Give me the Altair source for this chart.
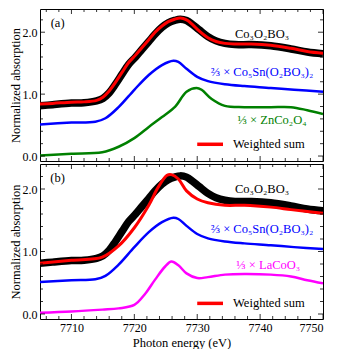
import altair as alt
import pandas as pd

# ---------------- data ----------------
black_x = [7704.9, 7707, 7710, 7712, 7714, 7715, 7716, 7717, 7718.1, 7719.1, 7720.2, 7721.2,
           7722.3, 7723.3, 7724.4, 7725.4, 7726.4, 7727.3, 7728.3, 7729.3, 7730.3, 7731.7,
           7733, 7734.4, 7736, 7738.6, 7741.7, 7744.9, 7747.5, 7750]
black_y = [0.81, 0.83, 0.855, 0.86, 0.89, 0.93, 1.02, 1.16, 1.33, 1.48, 1.60, 1.72,
           1.85, 1.97, 2.08, 2.15, 2.19, 2.21, 2.19, 2.12, 2.04, 1.93,
           1.86, 1.82, 1.80, 1.80, 1.78, 1.73, 1.68, 1.65]

red_a_y = [0.84, 0.85, 0.87, 0.875, 0.90, 0.95, 1.05, 1.19, 1.36, 1.51, 1.63, 1.75,
           1.88, 2.00, 2.10, 2.17, 2.21, 2.23, 2.20, 2.12, 2.02, 1.91,
           1.85, 1.82, 1.81, 1.81, 1.79, 1.74, 1.69, 1.66]

blue_x = [7704.9, 7710, 7713.8, 7715.4, 7717.5, 7720, 7722.3, 7724.4, 7726.2, 7727,
          7728.3, 7730, 7731.7, 7734.4, 7737.5, 7741.7, 7745.4, 7750]
blue_y = [0.51, 0.54, 0.555, 0.61, 0.79, 1.07, 1.31, 1.47, 1.54, 1.52,
          1.41, 1.28, 1.21, 1.16, 1.13, 1.10, 1.07, 1.04]

green_x = [7704.9, 7710, 7714.9, 7717.5, 7720, 7722.3, 7724.4, 7726.5, 7728.3, 7729.9,
           7730.7, 7732.3, 7734.4, 7737.5, 7741.7, 7744.9, 7747.5, 7750]
green_y = [0.01, 0.036, 0.06, 0.15, 0.29, 0.47, 0.63, 0.80, 1.04, 1.10,
           1.07, 0.92, 0.81, 0.79, 0.79, 0.79, 0.74, 0.68]

red_b_x = [7704.9, 7710, 7714.9, 7717.5, 7720, 7722.3, 7723.8, 7725.2, 7725.9, 7727,
           7728.3, 7730, 7731.7, 7734.4, 7737.5, 7741.7, 7744.9, 7747.5, 7750]
red_b_y = [0.81, 0.86, 0.91, 1.09, 1.38, 1.74, 2.03, 2.22, 2.23, 2.16,
           1.97, 1.84, 1.78, 1.74, 1.74, 1.71, 1.67, 1.64, 1.61]

mag_x = [7704.9, 7710, 7714.9, 7717.5, 7720, 7721.7, 7723.3, 7724.9, 7725.9, 7727,
         7728.3, 7730, 7731.7, 7734.4, 7737.5, 7741.7, 7744.9, 7747.5, 7750]
mag_y = [0.02, 0.04, 0.07, 0.09, 0.145, 0.32, 0.55, 0.76, 0.84, 0.78,
         0.65, 0.575, 0.59, 0.63, 0.64, 0.63, 0.60, 0.54, 0.49]

x_major = [7710, 7720, 7730, 7740, 7750]
x_minor = [7706, 7708, 7712, 7714, 7716, 7718, 7722, 7724, 7726, 7728, 7732, 7734,
           7736, 7738, 7742, 7744, 7746, 7748]
y_major = [0.0, 1.0, 2.0]
y_minor = [0.2, 0.4, 0.6, 0.8, 1.2, 1.4, 1.6, 1.8, 2.2]

FONT = "Liberation Serif"
W = 283
X_DOM = [7705, 7750]

BLACK, RED, BLUE, GREEN, MAG = "#000000", "#ff0000", "#0000ff", "#008000", "#ff00ff"


def line(xs, ys, color, width):
    df = pd.DataFrame({"e": xs, "a": ys})
    return alt.Chart(df).mark_line(color=color, strokeWidth=width, interpolate="catmull-rom",
                                   clip=True)


def text(label, x, y, color, align="center", size=12.5):
    df = pd.DataFrame({"e": [x], "a": [y], "t": [label]})
    return alt.Chart(df).mark_text(color=color, font=FONT, fontSize=size, align=align,
                                   baseline="middle").encode(
        x=alt.X("e:Q"), y=alt.Y("a:Q"), text="t:N")


def panel(series, labels, tag, y_dom, H, bottom):
    xenc = alt.X("e:Q", scale=alt.Scale(domain=X_DOM, nice=False, zero=False),
                 axis=alt.Axis(values=x_major, format="d", labels=bottom,
                               title="Photon energy (eV)" if bottom else None))
    yenc = alt.Y("a:Q", scale=alt.Scale(domain=y_dom, nice=False, zero=False),
                 axis=alt.Axis(values=y_major, format=".1f", title="Normalized absorption"))
    layers = []
    for xs, ys, c, w in series:
        layers.append(line(xs, ys, c, w).encode(x=xenc, y=yenc))
    for lab, x, y, c, al in labels:
        layers.append(text(lab, x, y, c, al))
    # legend sample
    leg_y = labels[-1][2]
    layers.append(alt.Chart(pd.DataFrame({"e": [7730.0], "e2": [7734.1], "a": [leg_y]}))
                  .mark_rule(color=RED, strokeWidth=3.5)
                  .encode(x="e:Q", x2="e2:Q", y="a:Q"))
    layers.append(text(tag, 7707.8, y_dom[1] - 0.22, BLACK, "center"))
    # inward ticks
    for vals, ln in ((x_major, 5), (x_minor, 3)):
        d = pd.DataFrame({"e": vals})
        layers.append(alt.Chart(d).mark_rule(color=BLACK, strokeWidth=0.8).encode(
            x="e:Q", y=alt.value(0), y2=alt.value(ln)))
        layers.append(alt.Chart(d).mark_rule(color=BLACK, strokeWidth=0.8).encode(
            x="e:Q", y=alt.value(H), y2=alt.value(H - ln)))
    for vals, ln in ((y_major, 5), (y_minor, 3)):
        d = pd.DataFrame({"a": vals})
        layers.append(alt.Chart(d).mark_rule(color=BLACK, strokeWidth=0.8).encode(
            y="a:Q", x=alt.value(0), x2=alt.value(ln)))
        layers.append(alt.Chart(d).mark_rule(color=BLACK, strokeWidth=0.8).encode(
            y="a:Q", x=alt.value(W), x2=alt.value(W - ln)))
    return alt.layer(*layers).properties(width=W, height=H)


lab_co = "Co₃O₂BO₃"
lab_sn = "⅔ × Co₅Sn(O₂BO₃)₂"
lab_zn = "⅓ × ZnCo₂O₄"
lab_la = "⅓ × LaCoO₃"
lab_ws = "Weighted sum"

pa = panel(
    [(black_x, black_y, BLACK, 7.5), (black_x, red_a_y, RED, 3),
     (blue_x, blue_y, BLUE, 2.5), (green_x, green_y, GREEN, 2.5)],
    [(lab_co, 7740.3, 1.97, BLACK, "center"),
     (lab_sn, 7740.3, 1.36, BLUE, "center"),
     (lab_zn, 7741.9, 0.58, GREEN, "center"),
     (lab_ws, 7735.7, 0.19, BLACK, "left")],
    "(a)", [-0.08, 2.375], 152, False)

pb = panel(
    [(black_x, black_y, BLACK, 7.5), (red_b_x, red_b_y, RED, 3),
     (blue_x, blue_y, BLUE, 2.5), (mag_x, mag_y, MAG, 2.5)],
    [(lab_co, 7740.3, 2.0, BLACK, "center"),
     (lab_sn, 7740.3, 1.36, BLUE, "center"),
     (lab_la, 7741.3, 0.79, MAG, "center"),
     (lab_ws, 7735.7, 0.17, BLACK, "left")],
    "(b)", [-0.08, 2.40], 155, True)

chart = alt.vconcat(pa, pb, spacing=0).configure_view(
    stroke=BLACK, strokeWidth=1
).configure_axis(
    ticks=False, domain=False, grid=False, labelFont=FONT, titleFont=FONT,
    labelFontSize=12, titleFontSize=12.5, labelColor=BLACK, titleColor=BLACK,
    titleFontWeight="normal", labelPadding=3
).configure_axisY(
    titlePadding=0
).configure_axisX(
    titlePadding=3
).properties(padding={"left": 0, "top": 0, "right": 5, "bottom": 0})

chart.save("out.html", embed_options={"renderer": "svg", "actions": False})
